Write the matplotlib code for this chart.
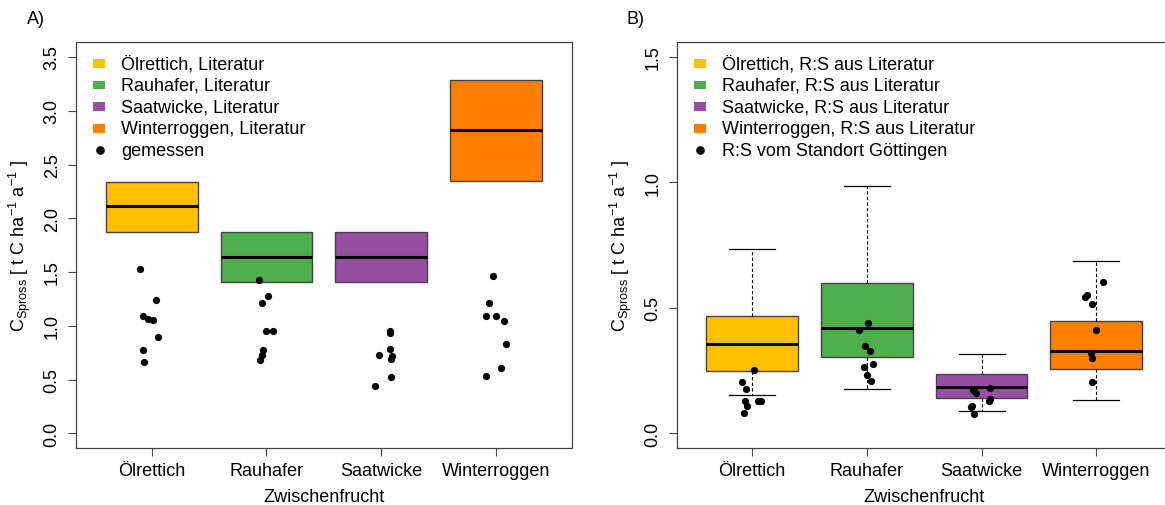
import matplotlib
matplotlib.use("Agg")
import matplotlib.pyplot as plt
from matplotlib.patches import Rectangle
from matplotlib.lines import Line2D
import numpy as np

plt.rcParams["font.family"] = ["Liberation Sans", "DejaVu Sans"]

# ---- data -------------------------------------------------------------
crops = ["Ölrettich", "Rauhafer", "Saatwicke", "Winterroggen"]
colors = ["#FFC000", "#4DAF4A", "#984EA3", "#FF7F00"]

# Panel A: literature ranges (lower, median, upper) in t C/ha/a
lit_low = [1.87, 1.41, 1.41, 2.35]
lit_med = [2.11, 1.64, 1.64, 2.82]
lit_high = [2.34, 1.87, 1.87, 3.29]

# Panel A: measured values with horizontal jitter
meas_a = [
    [1.53, 1.24, 1.09, 1.06, 1.05, 0.90, 0.77, 0.66],
    [1.43, 1.28, 1.21, 0.955, 0.955, 0.77, 0.73, 0.68],
    [0.95, 0.93, 0.78, 0.73, 0.72, 0.69, 0.52, 0.44],
    [1.46, 1.21, 1.095, 1.095, 1.04, 0.83, 0.605, 0.53],
]
jit_a = [
    [-0.100, 0.037, -0.072, -0.028, 0.010, 0.057, -0.077, -0.063],
    [-0.068, 0.010, -0.042, -0.002, 0.057, -0.031, -0.037, -0.054],
    [0.081, 0.076, 0.076, -0.017, 0.096, 0.085, 0.087, -0.050],
    [-0.024, -0.057, -0.083, 0.002, 0.068, 0.086, 0.048, -0.083],
]

# Panel B: box statistics with R:S from literature
b_whislo = [0.152, 0.175, 0.089, 0.134]
b_q1 = [0.247, 0.304, 0.142, 0.255]
b_med = [0.356, 0.421, 0.185, 0.328]
b_q3 = [0.469, 0.598, 0.235, 0.448]
b_whishi = [0.734, 0.984, 0.315, 0.687]

# Panel B: values with R:S from the Göttingen site
meas_b = [
    [0.251, 0.206, 0.178, 0.129, 0.129, 0.129, 0.110, 0.080],
    [0.440, 0.412, 0.347, 0.326, 0.275, 0.263, 0.233, 0.209],
    [0.182, 0.171, 0.162, 0.138, 0.130, 0.106, 0.108, 0.077],
    [0.602, 0.550, 0.545, 0.517, 0.412, 0.318, 0.302, 0.203],
]
jit_b = [
    [0.014, -0.087, -0.052, -0.065, 0.052, 0.075, -0.044, -0.073],
    [0.009, -0.070, -0.015, 0.029, 0.055, -0.024, -0.003, 0.035],
    [0.072, -0.073, -0.052, 0.072, 0.064, -0.093, -0.085, -0.070],
    [0.061, -0.081, -0.096, -0.035, -0.003, -0.044, -0.035, -0.035],
]

legend_a = [f"{c}, Literatur" for c in crops] + ["gemessen"]
legend_b = [f"{c}, R:S aus Literatur" for c in crops] + ["R:S vom Standort Göttingen"]

# ---- figure -----------------------------------------------------------
W, H = 1165, 506
fig = plt.figure(figsize=(W / 100, H / 100), dpi=100)
FS = 13
EDGE = "#444444"

axA = fig.add_axes([76 / W, 1 - 449.3 / H, 495.5 / W, 406.3 / H])
axB = fig.add_axes([676.5 / W, 1 - 449.3 / H, 495.5 / W, 406.3 / H])

pos = np.arange(1, len(crops) + 1)


def style_axes(ax, ymax, yticks):
    ax.set_xlim(0.34, 4.66)
    ax.set_ylim(-0.04 * ymax, ymax * 1.04)
    ax.set_xticks(pos)
    ax.set_xticklabels(crops, fontsize=FS)
    ax.set_yticks(yticks)
    ax.set_yticklabels([f"{t:.1f}" for t in yticks], fontsize=FS,
                       rotation=90, va="center")
    ax.tick_params(axis="both", length=6, width=0.8, color=EDGE, pad=5)
    ax.tick_params(axis="x", pad=4)
    for s in ax.spines.values():
        s.set_color(EDGE)
        s.set_linewidth(0.9)
    ax.set_xlabel("Zwischenfrucht", fontsize=FS, va="center")
    ax.xaxis.set_label_coords(0.5, -0.118)
    ax.set_ylabel(r"C$_{\mathregular{Spross}}$ [ t C ha$^{\mathregular{-1}}$ a$^{\mathregular{-1}}$ ]",
                  fontsize=FS, va="center")
    ax.yaxis.set_label_coords(-0.113, 0.5)


def draw_legend(ax, labels):
    # stacked entries in the upper-left corner, in axes pixel offsets
    x0, y0, dy = 17 / 495.5, 1 - 21.5 / 406.3, 21.7 / 406.3
    for i, lab in enumerate(labels):
        y = y0 - i * dy
        if i < len(colors):
            ax.add_patch(Rectangle((x0, y - 4 / 406.3), 12 / 495.5, 8.5 / 406.3,
                                   transform=ax.transAxes, facecolor=colors[i],
                                   edgecolor="none", zorder=5))
        else:
            ax.add_line(Line2D([x0 + 6.5 / 495.5], [y], transform=ax.transAxes,
                               marker="o", markersize=5.2, color="black",
                               linestyle="none", zorder=5))
        ax.text(x0 + 28 / 495.5, y, lab, transform=ax.transAxes,
                fontsize=FS, va="center", ha="left", zorder=5)


# Panel A: literature ranges as filled boxes
lo = np.array(lit_low)
hi = np.array(lit_high)
axA.bar(pos, hi - lo, bottom=lo, width=0.8, color=colors,
        edgecolor=EDGE, linewidth=1.0, zorder=2)
axA.hlines(lit_med, pos - 0.4, pos + 0.4, colors="black", linewidth=2.2, zorder=3)
for i in range(len(crops)):
    axA.plot(pos[i] + np.array(jit_a[i]), meas_a[i], "o", color="black",
             markersize=4.2, zorder=4)
style_axes(axA, 3.5, [0.0, 0.5, 1.0, 1.5, 2.0, 2.5, 3.0, 3.5])
draw_legend(axA, legend_a)

# Panel B: boxplots from summary statistics
stats = [dict(whislo=b_whislo[i], q1=b_q1[i], med=b_med[i], q3=b_q3[i],
              whishi=b_whishi[i], fliers=[]) for i in range(len(crops))]
bp = axB.bxp(stats, positions=pos, widths=0.8, patch_artist=True,
             showfliers=False,
             boxprops=dict(edgecolor=EDGE, linewidth=1.0),
             medianprops=dict(color="black", linewidth=2.2),
             whiskerprops=dict(color="black", linewidth=0.8, linestyle=(0, (3, 2))),
             capprops=dict(color="black", linewidth=0.9),
             capwidths=0.4)
for patch, c in zip(bp["boxes"], colors):
    patch.set_facecolor(c)
for i in range(len(crops)):
    axB.plot(pos[i] + np.array(jit_b[i]), meas_b[i], "o", color="black",
             markersize=4.2, zorder=4)
style_axes(axB, 1.5, [0.0, 0.5, 1.0, 1.5])
draw_legend(axB, legend_b)

fig.text(27 / W, 1 - 20 / H, "A)", fontsize=FS, va="center", ha="left")
fig.text(627 / W, 1 - 20 / H, "B)", fontsize=FS, va="center", ha="left")

fig.savefig("out.png", dpi=100)
